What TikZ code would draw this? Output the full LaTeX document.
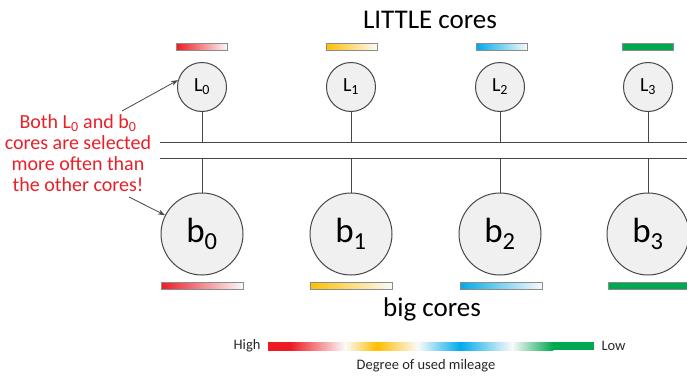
\documentclass[tikz,border=0pt]{standalone}
\usepackage{fontspec}
\setmainfont{Carlito}
\usetikzlibrary{arrows.meta}
\definecolor{cred}{RGB}{237,28,36}
\definecolor{cyel}{RGB}{255,190,0}
\definecolor{cblu}{RGB}{0,170,235}
\definecolor{cgrn}{RGB}{0,168,80}
\definecolor{cfade}{RGB}{240,240,240}
\definecolor{cwhite}{RGB}{250,250,250}
\definecolor{ctext}{RGB}{232,32,40}
\definecolor{cline}{RGB}{70,70,70}
\begin{document}
\begin{tikzpicture}[x=1pt,y=-1pt,
  little/.style={circle, draw=cline, fill=cfade, line width=1pt, minimum size=49pt, inner sep=0pt, font=\fontsize{20}{22}\selectfont},
  big/.style={circle, draw=cline, fill=cfade, line width=1pt, minimum size=82pt, inner sep=0pt, font=\fontsize{35}{38}\selectfont},
  sbar/.style={rectangle, draw=black!45, line width=0.5pt, minimum width=51pt, minimum height=7pt, inner sep=0pt},
  bbar/.style={rectangle, draw=black!45, line width=0.5pt, minimum width=82pt, minimum height=7pt, inner sep=0pt},
  bus/.style={draw=cline, line width=1.3pt},
  stem/.style={draw=cline, line width=1pt},
  note/.style={draw=cline, line width=0.8pt, -{Stealth[length=7pt,width=5pt]}},
  title/.style={font=\fontsize{27}{30}\selectfont, text=black},
  small/.style={font=\fontsize{14.5}{16}\selectfont, text=black!85}
]
\useasboundingbox (0,0) rectangle (687,375);

% titles
\node[title] (tl) at (430,20) {LITTLE cores};
\node[title] (tb) at (432,309) {big cores};

% little cores
\node[little] (L0) at (202,87) {L\textsubscript{0}};
\node[little] (L1) at (351,87) {L\textsubscript{1}};
\node[little] (L2) at (500,87) {L\textsubscript{2}};
\node[little] (L3) at (648,87) {L\textsubscript{3}};

% big cores
\node[big] (b0) at (202,234) {b\textsubscript{0}};
\node[big] (b1) at (351,234) {b\textsubscript{1}};
\node[big] (b2) at (500,234) {b\textsubscript{2}};
\node[big] (b3) at (648,234) {b\textsubscript{3}};

% top bars
\node[sbar, left color=cred, right color=cwhite] (r0) at (202,46.5) {};
\node[sbar, left color=cyel, right color=cwhite] (r1) at (351.5,46.5) {};
\node[sbar, left color=cblu, right color=cwhite] (r2) at (502,46.5) {};
\node[sbar, fill=cgrn] (r3) at (648,46.5) {};

% bottom bars
\node[bbar, left color=cred, right color=cwhite] (s0) at (202,285.5) {};
\node[bbar, left color=cyel, right color=cwhite] (s1) at (351,285.5) {};
\node[bbar, left color=cblu, right color=cwhite] (s2) at (501,285.5) {};
\node[bbar, fill=cgrn, minimum width=90pt] (s3) at (653,285.5) {};

% buses
\coordinate (ua) at (160,142.5);
\coordinate (ub) at (687,142.5);
\coordinate (la) at (160,158.5);
\coordinate (lb) at (687,158.5);
\draw[bus] (ua) -- (ub);
\draw[bus] (la) -- (lb);

% stems
\foreach \i in {0,1,2,3}{
  \draw[stem] (L\i.south) -- (L\i.south |- ua);
  \draw[stem] (b\i.north) -- (b\i.north |- la);
}

% note
\node[align=center, text=ctext, font=\fontsize{20}{21}\selectfont] (nt) at (78,153)
  {Both L\textsubscript{0} and b\textsubscript{0}\\cores are selected\\more often than\\the other cores!};
\coordinate (n1) at (122,111);
\coordinate (n2) at (129,197);
\draw[note] (n1) -- (L0.164);
\draw[note] (n2) -- (b0.153);

% legend
\node[small, anchor=east] (hi) at (264,346) {High};
\node[small, anchor=west] (lo) at (598,346) {Low};
\shade[left color=cred, right color=cred] (268,342) rectangle (290,350);
\shade[left color=cred, right color=cwhite] (290,342) rectangle (345,350);
\shade[left color=cwhite, right color=cyel] (345,342) rectangle (377,350);
\shade[left color=cyel, right color=cwhite] (377,342) rectangle (418,350);
\shade[left color=cwhite, right color=cblu] (418,342) rectangle (460,350);
\shade[left color=cblu, right color=cwhite] (460,342) rectangle (512,350);
\shade[left color=cwhite, right color=cgrn] (512,342) rectangle (553,350);
\fill[cgrn] (553,342) rectangle (594,350);
\node[small] (dg) at (426,366) {Degree of used mileage};
\end{tikzpicture}
\end{document}
